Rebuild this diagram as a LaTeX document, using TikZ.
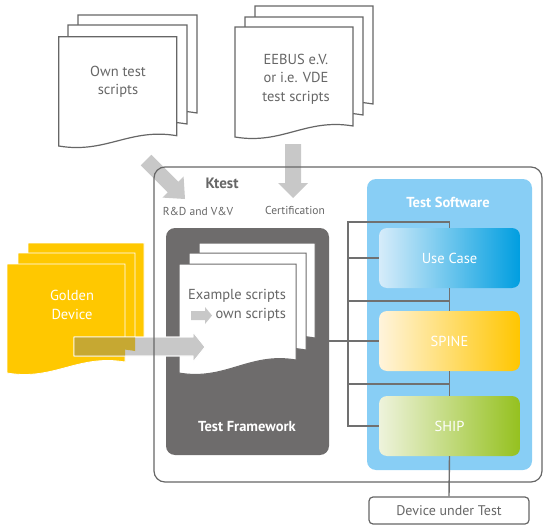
\documentclass[tikz,border=0pt]{standalone}
\usepackage{fontspec}
\setmainfont{PT Sans}
\usetikzlibrary{calc}
\definecolor{lineg}{HTML}{666666}
\definecolor{txtg}{HTML}{666666}
\definecolor{arrg}{HTML}{C8C8C8}
\definecolor{olivey}{HTML}{C6A832}
\definecolor{fwgray}{HTML}{6E6C6C}
\definecolor{yel}{HTML}{FFC800}
\definecolor{tsblue}{HTML}{88CEF5}
\definecolor{ucL}{HTML}{D6ECFA}
\definecolor{ucR}{HTML}{009EE0}
\definecolor{spL}{HTML}{FFF4DC}
\definecolor{spR}{HTML}{FFC600}
\definecolor{shL}{HTML}{EEF3DC}
\definecolor{shR}{HTML}{95C11F}
\definecolor{conng}{HTML}{707070}
% #1 command, #2 x1, #3 y top, #4 x2, #5 y bottom left, #6 y bottom right
\newcommand\docsheet[6]{#1 (#2,#3) -- (#4,#3) -- (#4,#6) .. controls ({#2+0.6*(#4-#2)},{#6-8}) and ({#2+0.4*(#4-#2)},{#5+8}) .. (#2,#5) -- cycle;}
\newcommand\bigarrowpath[1]{#1 (74,337) -- (193,337) -- (193,332) -- (205,347) -- (193,362) -- (193,356) -- (74,356) -- cycle;}
\tikzset{
  sheet/.style={fill=white,draw=lineg,line width=1.2pt},
  ysheet/.style={fill=yel,draw=white,line width=0.8pt},
  fwsheet/.style={fill=white,draw=fwgray,line width=1pt},
  conn/.style={draw=conng,line width=1.4pt},
  doctext/.style={text=txtg,align=center,font=\fontsize{14.5}{18.5}\selectfont},
  smalltext/.style={text=txtg,font=\fontsize{11.5}{12}\selectfont},
  wbold/.style={text=white,font=\fontsize{14.5}{16}\selectfont\bfseries},
  layer/.style={rounded corners=8pt,minimum width=141pt,minimum height=60pt,inner sep=0pt,text=white,font=\fontsize{14.5}{16}\selectfont},
}
\begin{document}
\begin{tikzpicture}[x=1pt,y=-1pt]
\useasboundingbox (0,0) rectangle (550,530);
% own test scripts
\docsheet{\path[sheet]}{78}{15}{197}{113}{113}
\docsheet{\path[sheet]}{68}{25}{187}{124}{124}
\docsheet{\path[sheet]}{58.7}{36.7}{176.7}{146}{135.7}
\node[doctext] (own) at (118,82) {Own test\\scripts};
% EEBUS scripts
\docsheet{\path[sheet]}{255}{6}{373}{104}{104}
\docsheet{\path[sheet]}{245}{17}{363}{115}{115}
\docsheet{\path[sheet]}{235}{27}{353}{137}{126}
\node[doctext] (eebus) at (296,79) {EEBUS e.V.\\or i.e. VDE\\test scripts};
% arrows into Ktest
\fill[arrg] (151.4,154.8) -- (178.3,181.7) -- (183.6,176.4) -- (185,199) -- (162.4,197.6) -- (167.7,192.3) -- (140.8,165.4) -- cycle;
\fill[arrg] (285,144) -- (301,144) -- (301,183) -- (308,183) -- (293,198) -- (278,183) -- (285,183) -- cycle;
% golden device
\docsheet{\path[ysheet]}{28}{243}{144}{339}{339}
\docsheet{\path[ysheet]}{18}{253}{135}{351}{351}
\docsheet{\path[ysheet]}{7}{264}{125}{373}{362}
\node[text=white,align=center,font=\fontsize{14.5}{18.5}\selectfont] (golden) at (72,305) {Golden\\Device};
% test framework
\node[fill=fwgray,rounded corners=9pt,minimum width=163pt,minimum height=227pt,inner sep=0pt] (fw) at (247.5,341.5) {};
\docsheet{\path[fwsheet]}{199}{243}{315}{338}{338}
\docsheet{\path[fwsheet]}{189}{253}{306}{350}{350}
\docsheet{\path[fwsheet]}{179}{264}{296}{373}{360}
\node[doctext,align=right] (ex) at (237,305.5) {Example scripts\\own scripts};
\fill[arrg] (191,311) -- (205,311) -- (205,307) -- (212,315.5) -- (205,324) -- (205,320) -- (191,320) -- cycle;
\node[wbold] (fwlabel) at (247,427) {Test Framework};
% big arrow from golden device
\bigarrowpath{\path[fill=arrg,draw=white,line width=0.7pt]}
\begin{scope}
\docsheet{\clip}{7}{264}{125}{373}{362}
\bigarrowpath{\fill[olivey]}
\end{scope}
\begin{scope}
\docsheet{\clip}{18}{253}{135}{351}{351}
\bigarrowpath{\fill[olivey]}
\end{scope}
\bigarrowpath{\path[draw=white,line width=0.7pt]}
% test software
\node[fill=tsblue,rounded corners=9pt,minimum width=165pt,minimum height=291pt,inner sep=0pt] (ts) at (449.5,324.5) {};
\node[wbold] (tslabel) at (448,202) {Test Software};
\node[layer,left color=ucL,right color=ucR] (uc) at (449.5,258) {Use Case};
\node[layer,left color=spL,right color=spR] (sp) at (449.5,341) {SPINE};
\node[layer,left color=shL,right color=shR] (sh) at (449.5,426) {SHIP};
\node[draw=lineg,line width=1.2pt,rounded corners=4pt,minimum width=160pt,minimum height=27pt,inner sep=0pt,text=txtg,font=\fontsize{14}{15}\selectfont] (dut) at (449,510.5) {Device under Test};
% connectors
\coordinate (busTop) at (348,222);
\coordinate (j1) at (449.5,301);
\coordinate (j2) at (449.5,384);
\draw[conn] (uc.north) |- (busTop) |- (sh.west);
\draw[conn] (uc.west) -- (uc.west -| busTop);
\draw[conn] (uc.south) -- (sp.north);
\draw[conn] (j1) -- (j1 -| busTop);
\draw[conn] (sp.south) -- (sh.north);
\draw[conn] (j2) -- (j2 -| busTop);
\draw[conn] (fw.east |- sp.west) -- (sp.west);
\draw[conn] (sh.south) -- (dut.north);
% Ktest box
\node[draw=lineg,line width=1.2pt,rounded corners=11pt,minimum width=388pt,minimum height=315pt,inner sep=0pt] (ktest) at (348,324.5) {};
\node[text=txtg,font=\fontsize{15}{16}\selectfont\bfseries] (ktestlabel) at (222,183) {Ktest};
\node[smalltext] (rdvv) at (198,211) {R\&D and V\&V};
\node[smalltext] (cert) at (295,210) {Certification};
\end{tikzpicture}
\end{document}
